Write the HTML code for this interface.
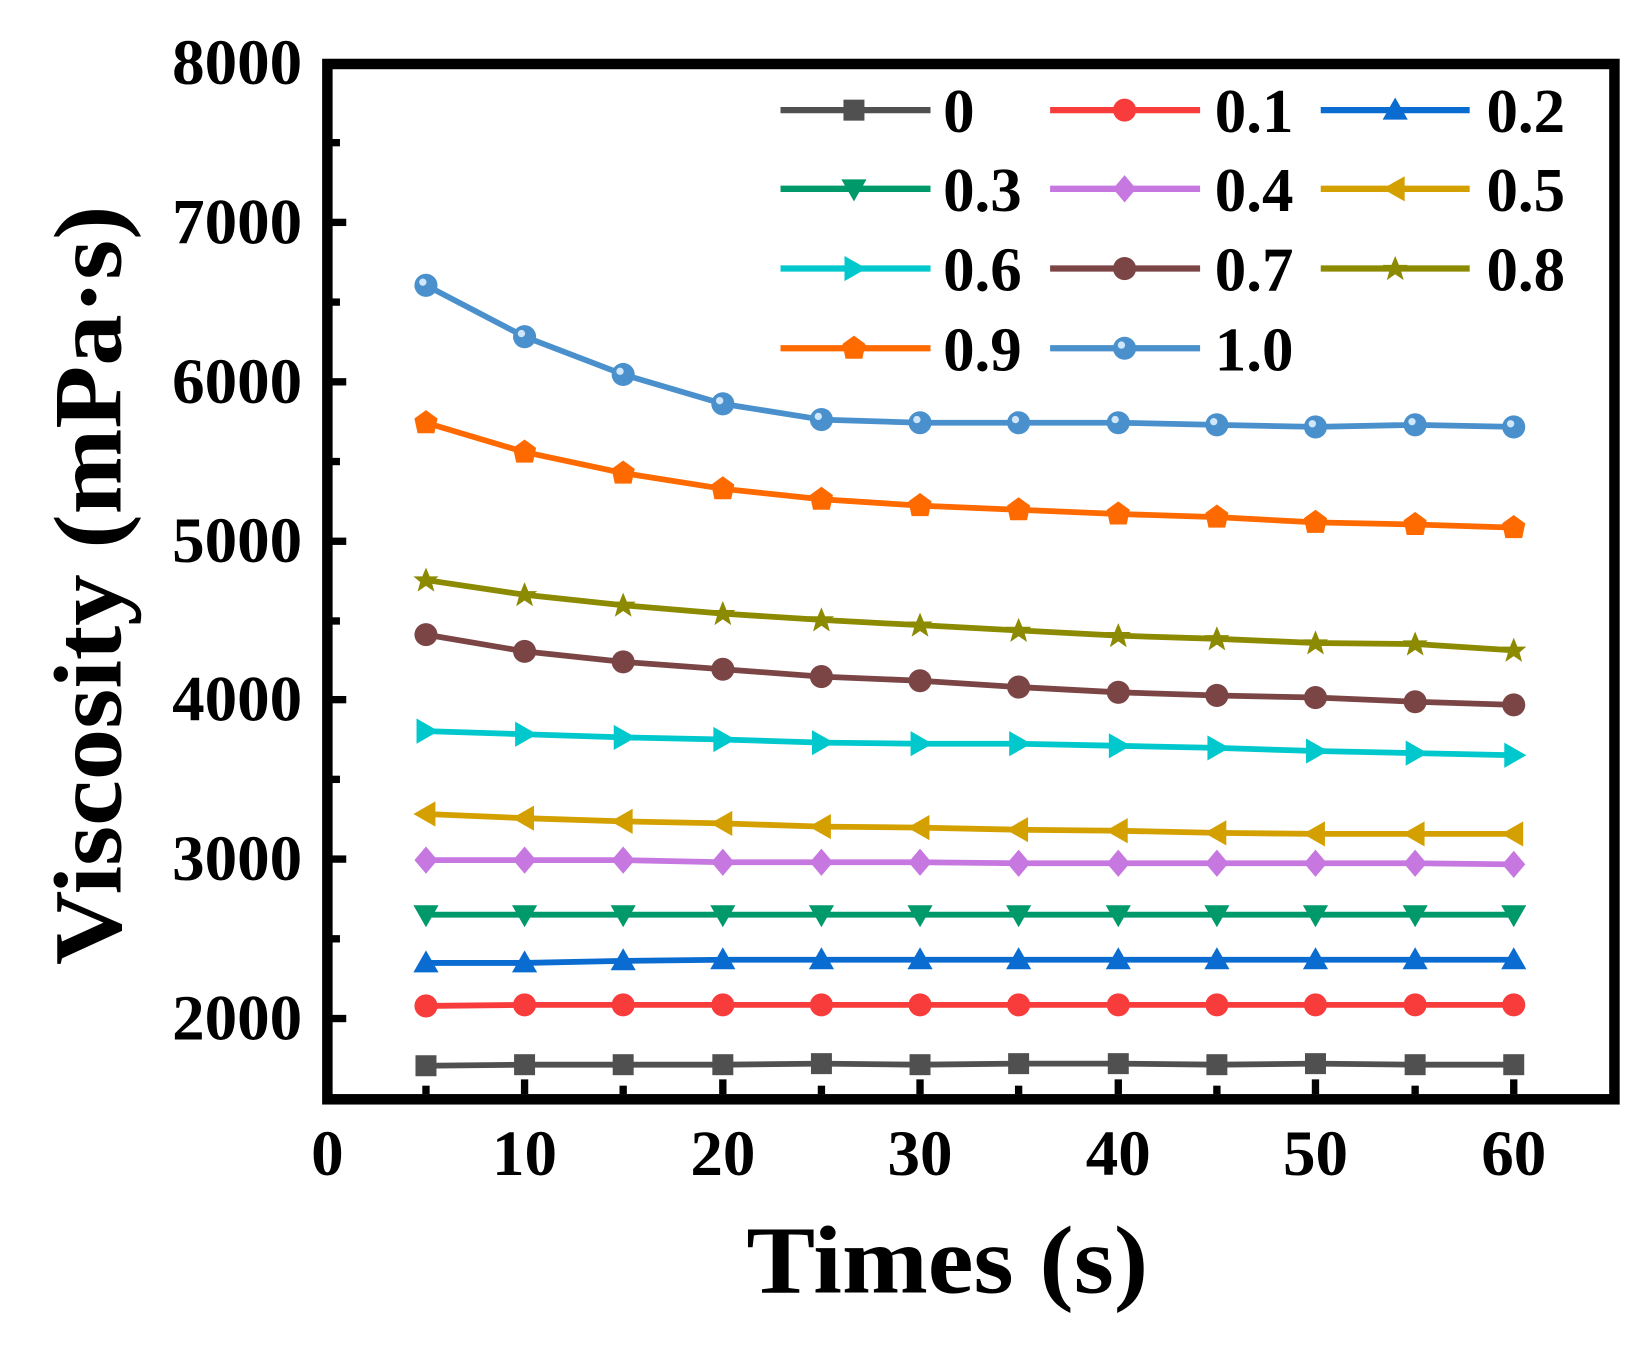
<!DOCTYPE html>
<html><head><meta charset="utf-8"><style>html,body{margin:0;padding:0;background:#fff}svg{display:block}</style></head>
<body>
<svg width="1646" height="1350" viewBox="0 0 1569 1287" xmlns="http://www.w3.org/2000/svg" font-family="'Liberation Serif', serif" font-weight="bold">
<defs>
<rect id="m0" x="-10" y="-10" width="20" height="20" fill="#505050"/>
<circle id="m1" r="11" fill="#f83c3c"/>
<polygon id="m2" points="0,-12 12,9 -12,9" fill="#0a6cd0"/>
<polygon id="m3" points="0,12 12,-9 -12,-9" fill="#00996a"/>
<polygon id="m4" points="0,-13 11,0 0,13 -11,0" fill="#c678e0"/>
<polygon id="m5" points="-12,0 9,-12 9,12" fill="#d4a000"/>
<polygon id="m6" points="12,0 -9,-12 -9,12" fill="#00c8cc"/>
<circle id="m7" r="11" fill="#7b4545"/>
<polygon id="m8" points="0,-12 3.5,-3.5 12,-3.5 5.5,2 8,11 0,5.5 -8,11 -5.5,2 -12,-3.5 -3.5,-3.5" fill="#8c8a00"/>
<polygon id="m9" points="0,-12 11,-4 8,10 -8,10 -11,-4" fill="#ff6a00"/>
<g id="m10"><circle r="11" fill="#4a90cc"/><circle cx="-3" cy="-3" r="3.5" fill="#cfe6fb"/></g>
</defs>
<rect width="1569" height="1287" fill="#fff"/>
<rect x="312" y="61" width="1227" height="987" fill="none" stroke="#000" stroke-width="10"/>
<g stroke="#000" stroke-width="7">
<line x1="316" y1="212" x2="330" y2="212"/><line x1="316" y1="364" x2="330" y2="364"/><line x1="316" y1="516" x2="330" y2="516"/><line x1="316" y1="667" x2="330" y2="667"/><line x1="316" y1="819" x2="330" y2="819"/><line x1="316" y1="971" x2="330" y2="971"/>
<line x1="316" y1="136" x2="324" y2="136"/><line x1="316" y1="288" x2="324" y2="288"/><line x1="316" y1="440" x2="324" y2="440"/><line x1="316" y1="592" x2="324" y2="592"/><line x1="316" y1="743" x2="324" y2="743"/><line x1="316" y1="895" x2="324" y2="895"/>
<line x1="500" y1="1043" x2="500" y2="1029"/><line x1="689" y1="1043" x2="689" y2="1029"/><line x1="877" y1="1043" x2="877" y2="1029"/><line x1="1066" y1="1043" x2="1066" y2="1029"/><line x1="1254" y1="1043" x2="1254" y2="1029"/><line x1="1443" y1="1043" x2="1443" y2="1029"/>
<line x1="406" y1="1043" x2="406" y2="1035"/><line x1="594" y1="1043" x2="594" y2="1035"/><line x1="783" y1="1043" x2="783" y2="1035"/><line x1="971" y1="1043" x2="971" y2="1035"/><line x1="1160" y1="1043" x2="1160" y2="1035"/><line x1="1349" y1="1043" x2="1349" y2="1035"/>
</g>
<g font-size="62" text-anchor="end">
<text x="288" y="80">8000</text><text x="288" y="232">7000</text><text x="288" y="384">6000</text><text x="288" y="536">5000</text><text x="288" y="687">4000</text><text x="288" y="839">3000</text><text x="288" y="991">2000</text>
</g>
<g font-size="62" text-anchor="middle">
<text x="312" y="1120">0</text><text x="500" y="1120">10</text><text x="689" y="1120">20</text><text x="877" y="1120">30</text><text x="1066" y="1120">40</text><text x="1254" y="1120">50</text><text x="1443" y="1120">60</text>
</g>
<text x="903" y="1232" font-size="92" text-anchor="middle" textLength="383" lengthAdjust="spacingAndGlyphs">Times (s)</text>
<text transform="translate(115,558) rotate(-90)" font-size="92" text-anchor="middle" textLength="724" lengthAdjust="spacingAndGlyphs">Viscosity (mPa·s)</text>
<g fill="none" stroke-width="5.5" stroke-linejoin="round">
<polyline stroke="#505050" points="406,1016 500,1015 594,1015 689,1015 783,1014 877,1015 971,1014 1066,1014 1160,1015 1254,1014 1349,1015 1443,1015"/>
<polyline stroke="#f83c3c" points="406,959 500,958 594,958 689,958 783,958 877,958 971,958 1066,958 1160,958 1254,958 1349,958 1443,958"/>
<polyline stroke="#0a6cd0" points="406,918 500,918 594,916 689,915 783,915 877,915 971,915 1066,915 1160,915 1254,915 1349,915 1443,915"/>
<polyline stroke="#00996a" points="406,872 500,872 594,872 689,872 783,872 877,872 971,872 1066,872 1160,872 1254,872 1349,872 1443,872"/>
<polyline stroke="#c678e0" points="406,820 500,820 594,820 689,822 783,822 877,822 971,823 1066,823 1160,823 1254,823 1349,823 1443,824"/>
<polyline stroke="#d4a000" points="406,776 500,780 594,783 689,785 783,788 877,789 971,791 1066,792 1160,794 1254,795 1349,795 1443,795"/>
<polyline stroke="#00c8cc" points="406,697 500,700 594,703 689,705 783,708 877,709 971,709 1066,711 1160,713 1254,716 1349,718 1443,720"/>
<polyline stroke="#7b4545" points="406,605 500,621 594,631 689,638 783,645 877,649 971,655 1066,660 1160,663 1254,665 1349,669 1443,672"/>
<polyline stroke="#8c8a00" points="406,553 500,567 594,577 689,585 783,591 877,596 971,601 1066,606 1160,609 1254,613 1349,614 1443,620"/>
<polyline stroke="#ff6a00" points="406,403 500,431 594,451 689,466 783,476 877,482 971,486 1066,490 1160,493 1254,498 1349,500 1443,503"/>
<polyline stroke="#4a90cc" points="406,272 500,321 594,357 689,385 783,400 877,403 971,403 1066,403 1160,405 1254,407 1349,405 1443,407"/>
</g>
<g>
<use href="#m0" x="406" y="1016"/><use href="#m0" x="500" y="1015"/><use href="#m0" x="594" y="1015"/><use href="#m0" x="689" y="1015"/><use href="#m0" x="783" y="1014"/><use href="#m0" x="877" y="1015"/><use href="#m0" x="971" y="1014"/><use href="#m0" x="1066" y="1014"/><use href="#m0" x="1160" y="1015"/><use href="#m0" x="1254" y="1014"/><use href="#m0" x="1349" y="1015"/><use href="#m0" x="1443" y="1015"/>
<use href="#m1" x="406" y="959"/><use href="#m1" x="500" y="958"/><use href="#m1" x="594" y="958"/><use href="#m1" x="689" y="958"/><use href="#m1" x="783" y="958"/><use href="#m1" x="877" y="958"/><use href="#m1" x="971" y="958"/><use href="#m1" x="1066" y="958"/><use href="#m1" x="1160" y="958"/><use href="#m1" x="1254" y="958"/><use href="#m1" x="1349" y="958"/><use href="#m1" x="1443" y="958"/>
<use href="#m2" x="406" y="918"/><use href="#m2" x="500" y="918"/><use href="#m2" x="594" y="916"/><use href="#m2" x="689" y="915"/><use href="#m2" x="783" y="915"/><use href="#m2" x="877" y="915"/><use href="#m2" x="971" y="915"/><use href="#m2" x="1066" y="915"/><use href="#m2" x="1160" y="915"/><use href="#m2" x="1254" y="915"/><use href="#m2" x="1349" y="915"/><use href="#m2" x="1443" y="915"/>
<use href="#m3" x="406" y="872"/><use href="#m3" x="500" y="872"/><use href="#m3" x="594" y="872"/><use href="#m3" x="689" y="872"/><use href="#m3" x="783" y="872"/><use href="#m3" x="877" y="872"/><use href="#m3" x="971" y="872"/><use href="#m3" x="1066" y="872"/><use href="#m3" x="1160" y="872"/><use href="#m3" x="1254" y="872"/><use href="#m3" x="1349" y="872"/><use href="#m3" x="1443" y="872"/>
<use href="#m4" x="406" y="820"/><use href="#m4" x="500" y="820"/><use href="#m4" x="594" y="820"/><use href="#m4" x="689" y="822"/><use href="#m4" x="783" y="822"/><use href="#m4" x="877" y="822"/><use href="#m4" x="971" y="823"/><use href="#m4" x="1066" y="823"/><use href="#m4" x="1160" y="823"/><use href="#m4" x="1254" y="823"/><use href="#m4" x="1349" y="823"/><use href="#m4" x="1443" y="824"/>
<use href="#m5" x="406" y="776"/><use href="#m5" x="500" y="780"/><use href="#m5" x="594" y="783"/><use href="#m5" x="689" y="785"/><use href="#m5" x="783" y="788"/><use href="#m5" x="877" y="789"/><use href="#m5" x="971" y="791"/><use href="#m5" x="1066" y="792"/><use href="#m5" x="1160" y="794"/><use href="#m5" x="1254" y="795"/><use href="#m5" x="1349" y="795"/><use href="#m5" x="1443" y="795"/>
<use href="#m6" x="406" y="697"/><use href="#m6" x="500" y="700"/><use href="#m6" x="594" y="703"/><use href="#m6" x="689" y="705"/><use href="#m6" x="783" y="708"/><use href="#m6" x="877" y="709"/><use href="#m6" x="971" y="709"/><use href="#m6" x="1066" y="711"/><use href="#m6" x="1160" y="713"/><use href="#m6" x="1254" y="716"/><use href="#m6" x="1349" y="718"/><use href="#m6" x="1443" y="720"/>
<use href="#m7" x="406" y="605"/><use href="#m7" x="500" y="621"/><use href="#m7" x="594" y="631"/><use href="#m7" x="689" y="638"/><use href="#m7" x="783" y="645"/><use href="#m7" x="877" y="649"/><use href="#m7" x="971" y="655"/><use href="#m7" x="1066" y="660"/><use href="#m7" x="1160" y="663"/><use href="#m7" x="1254" y="665"/><use href="#m7" x="1349" y="669"/><use href="#m7" x="1443" y="672"/>
<use href="#m8" x="406" y="553"/><use href="#m8" x="500" y="567"/><use href="#m8" x="594" y="577"/><use href="#m8" x="689" y="585"/><use href="#m8" x="783" y="591"/><use href="#m8" x="877" y="596"/><use href="#m8" x="971" y="601"/><use href="#m8" x="1066" y="606"/><use href="#m8" x="1160" y="609"/><use href="#m8" x="1254" y="613"/><use href="#m8" x="1349" y="614"/><use href="#m8" x="1443" y="620"/>
<use href="#m9" x="406" y="403"/><use href="#m9" x="500" y="431"/><use href="#m9" x="594" y="451"/><use href="#m9" x="689" y="466"/><use href="#m9" x="783" y="476"/><use href="#m9" x="877" y="482"/><use href="#m9" x="971" y="486"/><use href="#m9" x="1066" y="490"/><use href="#m9" x="1160" y="493"/><use href="#m9" x="1254" y="498"/><use href="#m9" x="1349" y="500"/><use href="#m9" x="1443" y="503"/>
<use href="#m10" x="406" y="272"/><use href="#m10" x="500" y="321"/><use href="#m10" x="594" y="357"/><use href="#m10" x="689" y="385"/><use href="#m10" x="783" y="400"/><use href="#m10" x="877" y="403"/><use href="#m10" x="971" y="403"/><use href="#m10" x="1066" y="403"/><use href="#m10" x="1160" y="405"/><use href="#m10" x="1254" y="407"/><use href="#m10" x="1349" y="405"/><use href="#m10" x="1443" y="407"/>
</g>
<g stroke-width="6">
<line x1="744" y1="105" x2="887" y2="105" stroke="#505050"/><line x1="1001" y1="105" x2="1144" y2="105" stroke="#f83c3c"/><line x1="1259" y1="105" x2="1401" y2="105" stroke="#0a6cd0"/>
<line x1="744" y1="180" x2="887" y2="180" stroke="#00996a"/><line x1="1001" y1="180" x2="1144" y2="180" stroke="#c678e0"/><line x1="1259" y1="180" x2="1401" y2="180" stroke="#d4a000"/>
<line x1="744" y1="256" x2="887" y2="256" stroke="#00c8cc"/><line x1="1001" y1="256" x2="1144" y2="256" stroke="#7b4545"/><line x1="1259" y1="256" x2="1401" y2="256" stroke="#8c8a00"/>
<line x1="744" y1="332" x2="887" y2="332" stroke="#ff6a00"/><line x1="1001" y1="332" x2="1144" y2="332" stroke="#4a90cc"/>
</g>
<use href="#m0" x="814" y="105"/><use href="#m1" x="1072" y="105"/><use href="#m2" x="1330" y="105"/>
<use href="#m3" x="814" y="180"/><use href="#m4" x="1072" y="180"/><use href="#m5" x="1330" y="180"/>
<use href="#m6" x="814" y="256"/><use href="#m7" x="1072" y="256"/><use href="#m8" x="1330" y="256"/>
<use href="#m9" x="814" y="332"/><use href="#m10" x="1072" y="332"/>
<g font-size="60">
<text x="899" y="126">0</text><text x="1158" y="126">0.1</text><text x="1417" y="126">0.2</text>
<text x="899" y="201">0.3</text><text x="1158" y="201">0.4</text><text x="1417" y="201">0.5</text>
<text x="899" y="277">0.6</text><text x="1158" y="277">0.7</text><text x="1417" y="277">0.8</text>
<text x="899" y="353">0.9</text><text x="1158" y="353">1.0</text>
</g>
</svg>
</body></html>
